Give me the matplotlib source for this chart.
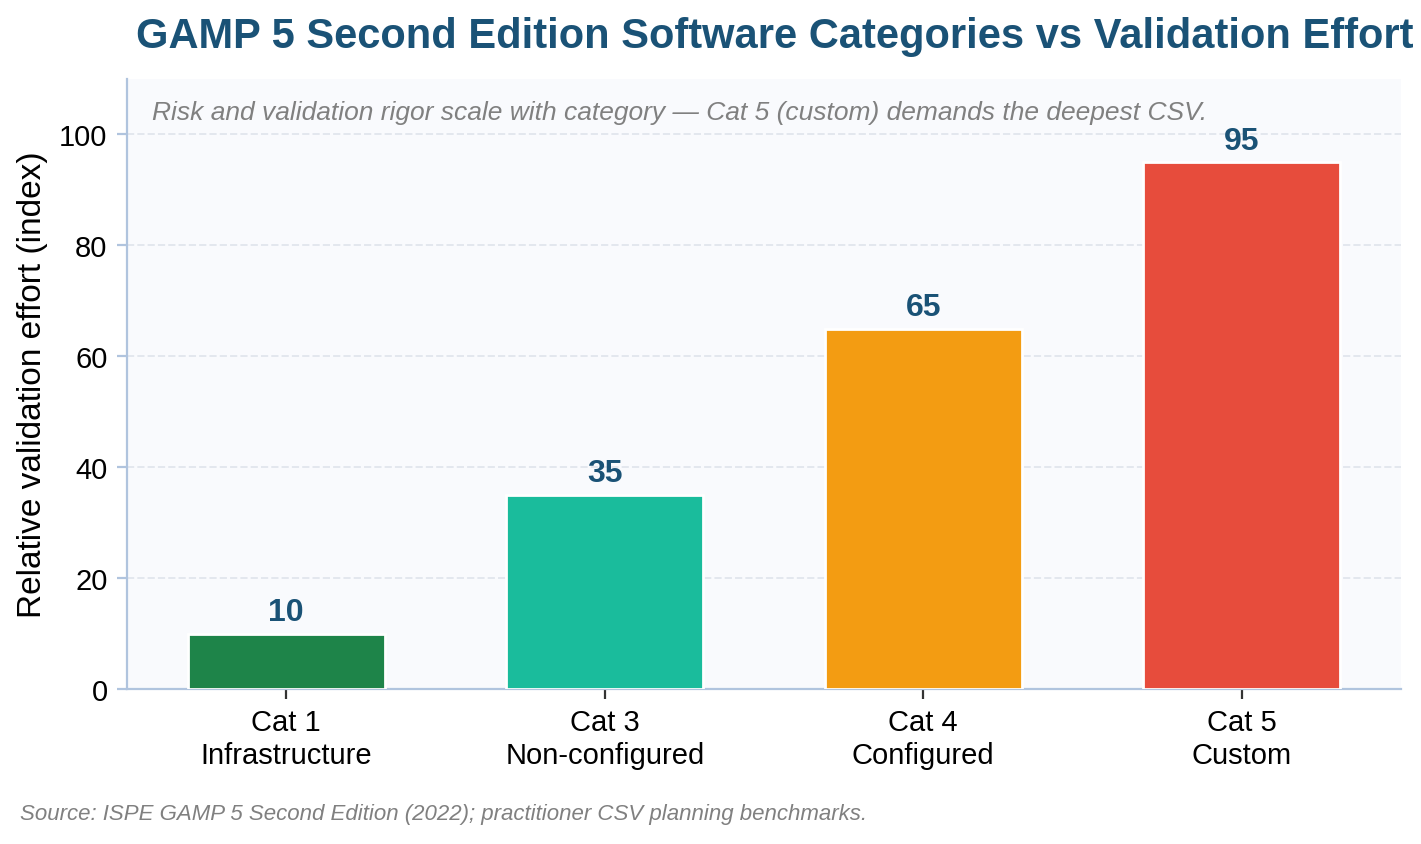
import matplotlib
matplotlib.use("Agg")
import matplotlib.pyplot as plt

plt.rcParams['font.family'] = ['Liberation Sans', 'DejaVu Sans']

categories = ["Cat 1\nInfrastructure", "Cat 3\nNon-configured", "Cat 4\nConfigured", "Cat 5\nCustom"]
values = [10, 35, 65, 95]
colors = ["#1e8449", "#1abc9c", "#f39c12", "#e74c3c"]

fig = plt.figure(figsize=(7.105, 4.225), dpi=200)
ax = fig.add_axes([127/1421, 1-690/845, (1401-127)/1421, (690-80)/845])
ax.set_facecolor("#f9fafd")
x = range(len(values))
ax.bar(x, values, width=0.62, color=colors, edgecolor="white", linewidth=1, zorder=3)
for xi, v in zip(x, values):
    ax.text(xi, v + 1.2, str(v), ha="center", va="bottom", fontsize=11.5,
            fontweight="bold", color="#1a5276")
ax.set_ylim(0, 110)
ax.set_xlim(-0.5, 3.5)
ax.set_xticks(list(x))
ax.set_xticklabels(categories, fontsize=10.5)
ax.set_yticks([0, 20, 40, 60, 80, 100])
ax.tick_params(axis='y', labelsize=10.5, color="#b0c4de")
ax.tick_params(axis='x', color="#333333")
ax.grid(axis='y', color="#e3e7ee", linestyle="--", linewidth=0.7, zorder=0)
for s in ["top", "right"]:
    ax.spines[s].set_visible(False)
for s in ["left", "bottom"]:
    ax.spines[s].set_color("#b0c4de")
ax.set_ylabel("Relative validation effort (index)", fontsize=12)
ax.text(0.02, 0.965, "Risk and validation rigor scale with category — Cat 5 (custom) demands the deepest CSV.",
        transform=ax.transAxes, fontsize=9.5, style="italic", color="#808080", va="top")
fig.text(0.545, 1-37/845, "GAMP 5 Second Edition Software Categories vs Validation Effort",
         ha="center", va="center", fontsize=15, fontweight="bold", color="#1a5276")
fig.text(20/1421, 1-815/845, "Source: ISPE GAMP 5 Second Edition (2022); practitioner CSV planning benchmarks.",
         fontsize=8, style="italic", color="#808080", va="center")
fig.savefig("out.png", dpi=200)
